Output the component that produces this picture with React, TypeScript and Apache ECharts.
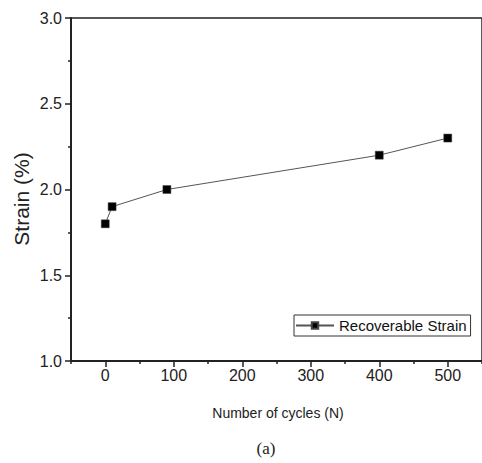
import React, { useEffect, useRef } from "react";
import * as echarts from "echarts";

const seriesName = "Recoverable Strain";
const cycles = [0, 10, 90, 400, 500];
const strain = [1.8, 1.9, 2.0, 2.2, 2.3];
const xMajorTicks = [0, 100, 200, 300, 400, 500];
const xMinorTicks = [-50, 50, 150, 250, 350, 450, 550];
const yName = "Strain (%)";
const xName = "Number of cycles (N)";
const caption = "(a)";

const FONT = "Liberation Sans, Arial, sans-serif";
const AXIS = "#222";

export default function App() {
  const ref = useRef<HTMLDivElement>(null);
  useEffect(() => {
    if (!ref.current) return;
    const chart = echarts.init(ref.current, null, { renderer: "svg" });
    chart.setOption({
      animation: false,
      backgroundColor: "#fff",
      textStyle: { fontFamily: FONT },
      grid: {
        left: 71,
        top: 18,
        width: 413,
        height: 343,
        show: true,
        borderColor: AXIS,
        borderWidth: 1.5,
        backgroundColor: "transparent",
      },
      legend: {
        show: true,
        left: 294,
        top: 315,
        orient: "horizontal",
        padding: [3, 4, 3, 1],
        borderColor: "#333",
        borderWidth: 1,
        itemWidth: 38,
        itemHeight: 8,
        itemGap: 4,
        textStyle: { fontSize: 15, color: "#111", fontFamily: FONT },
        data: [{ name: seriesName }],
      },
      xAxis: [
        {
          type: "value",
          min: -50,
          max: 550,
          position: "bottom",
          splitLine: { show: false },
          axisLine: { show: true, onZero: false, lineStyle: { color: AXIS, width: 2 } },
          axisTick: {
            show: true,
            length: 6,
            inside: false,
            customValues: xMajorTicks,
            lineStyle: { color: AXIS, width: 1.5 },
          },
          axisLabel: {
            customValues: xMajorTicks,
            fontSize: 16,
            color: "#222",
            margin: 6,
            fontFamily: FONT,
          },
        },
        {
          type: "value",
          min: -50,
          max: 550,
          position: "bottom",
          splitLine: { show: false },
          axisLine: { show: false, onZero: false },
          axisTick: {
            show: true,
            length: 3,
            inside: false,
            customValues: xMinorTicks,
            lineStyle: { color: AXIS, width: 1.5 },
          },
          axisLabel: { show: false },
        },
      ],
      yAxis: {
        type: "value",
        min: 1,
        max: 3,
        interval: 0.5,
        splitLine: { show: false },
        axisLine: { show: true, onZero: false, lineStyle: { color: AXIS, width: 2 } },
        axisTick: { show: true, length: 6, lineStyle: { color: AXIS, width: 1.5 } },
        minorTick: { show: true, splitNumber: 2, length: 3, lineStyle: { color: AXIS, width: 1.5 } },
        minorSplitLine: { show: false },
        axisLabel: {
          fontSize: 16,
          color: "#222",
          margin: 9,
          fontFamily: FONT,
          formatter: (v: number) => v.toFixed(1),
        },
      },
      series: [
        {
          name: seriesName,
          type: "line",
          xAxisIndex: 0,
          data: cycles.map((c, i) => [c, strain[i]]),
          symbol: "rect",
          symbolSize: 8,
          itemStyle: { color: "#000", borderColor: "#444", borderWidth: 0.5 },
          lineStyle: { color: "#555", width: 1 },
        },
      ],
      graphic: [
        {
          type: "text",
          x: 21,
          y: 199,
          rotation: Math.PI / 2,
          style: {
            text: yName,
            font: `21px ${FONT}`,
            fill: "#222",
            textAlign: "center",
            textVerticalAlign: "middle",
          },
        },
        {
          type: "text",
          x: 278,
          y: 413,
          style: {
            text: xName,
            font: `14px ${FONT}`,
            fill: "#222",
            textAlign: "center",
            textVerticalAlign: "middle",
          },
        },
        {
          type: "text",
          x: 266,
          y: 448,
          style: {
            text: caption,
            font: `17px Liberation Serif, Times New Roman, serif`,
            fill: "#222",
            textAlign: "center",
            textVerticalAlign: "middle",
          },
        },
      ],
    });
    return () => chart.dispose();
  }, []);
  return (
    <div
      ref={ref}
      style={{ position: "fixed", left: 0, top: 0, width: 482, height: 463 }}
    />
  );
}
